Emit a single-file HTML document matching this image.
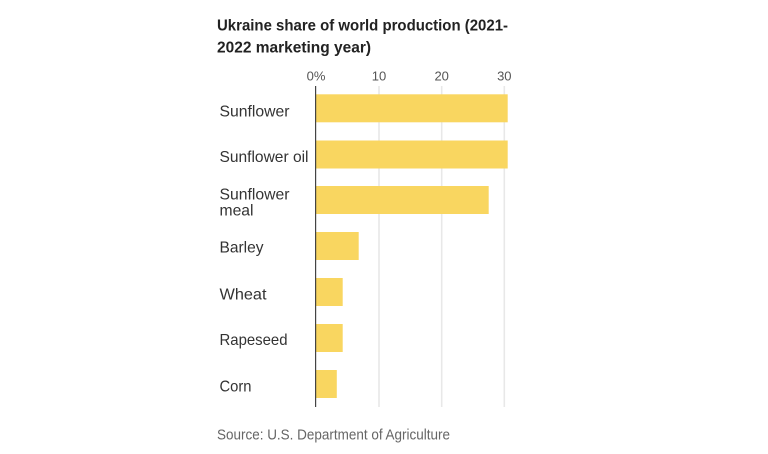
<!DOCTYPE html>
<html><head><meta charset="utf-8"><style>
html,body{margin:0;padding:0;background:#fff;}
svg{display:block;}
text{font-family:"Liberation Sans",sans-serif;}
</style></head><body>
<svg width="768" height="454" viewBox="0 0 768 454" xmlns="http://www.w3.org/2000/svg">
<rect width="768" height="454" fill="#fff"/>
<text x="217" y="30.7" font-size="16" font-weight="bold" fill="#222" textLength="291" lengthAdjust="spacingAndGlyphs">Ukraine share of world production (2021-</text>
<text x="217" y="52.3" font-size="16" font-weight="bold" fill="#222" textLength="154" lengthAdjust="spacingAndGlyphs">2022 marketing year)</text>
<g font-size="13" fill="#555" text-anchor="middle">
<text x="316" y="80.5">0%</text>
<text x="379" y="80.5">10</text>
<text x="441.7" y="80.5">20</text>
<text x="504.3" y="80.5">30</text>
</g>
<g stroke="#e8e8e8" stroke-width="1.6">
<line x1="379" y1="86" x2="379" y2="407"/>
<line x1="441.7" y1="86" x2="441.7" y2="407"/>
<line x1="504.3" y1="86" x2="504.3" y2="407"/>
</g>
<g fill="#F9D660">
<rect x="316" y="94.3" width="191.7" height="28"/>
<rect x="316" y="140.5" width="191.7" height="28"/>
<rect x="316" y="186" width="172.7" height="28"/>
<rect x="316" y="232" width="42.7" height="28"/>
<rect x="316" y="278" width="26.7" height="28"/>
<rect x="316" y="324" width="26.7" height="28"/>
<rect x="316" y="370" width="20.8" height="28"/>
</g>
<line x1="315.6" y1="86" x2="315.6" y2="407" stroke="#444" stroke-width="1.2"/>
<g font-size="16" fill="#333">
<text x="219.5" y="116.5" textLength="70" lengthAdjust="spacingAndGlyphs">Sunflower</text>
<text x="219.5" y="162" textLength="89" lengthAdjust="spacingAndGlyphs">Sunflower oil</text>
<text x="219.5" y="199.3" textLength="70" lengthAdjust="spacingAndGlyphs">Sunflower</text>
<text x="219.5" y="215.5" textLength="34" lengthAdjust="spacingAndGlyphs">meal</text>
<text x="219.5" y="252.7" textLength="44" lengthAdjust="spacingAndGlyphs">Barley</text>
<text x="219.5" y="299.3" textLength="47" lengthAdjust="spacingAndGlyphs">Wheat</text>
<text x="219.5" y="345" textLength="68" lengthAdjust="spacingAndGlyphs">Rapeseed</text>
<text x="219.5" y="391.5" textLength="32" lengthAdjust="spacingAndGlyphs">Corn</text>
</g>
<text x="217" y="439.3" font-size="14.5" fill="#666" textLength="233" lengthAdjust="spacingAndGlyphs">Source: U.S. Department of Agriculture</text>
</svg>
</body></html>
